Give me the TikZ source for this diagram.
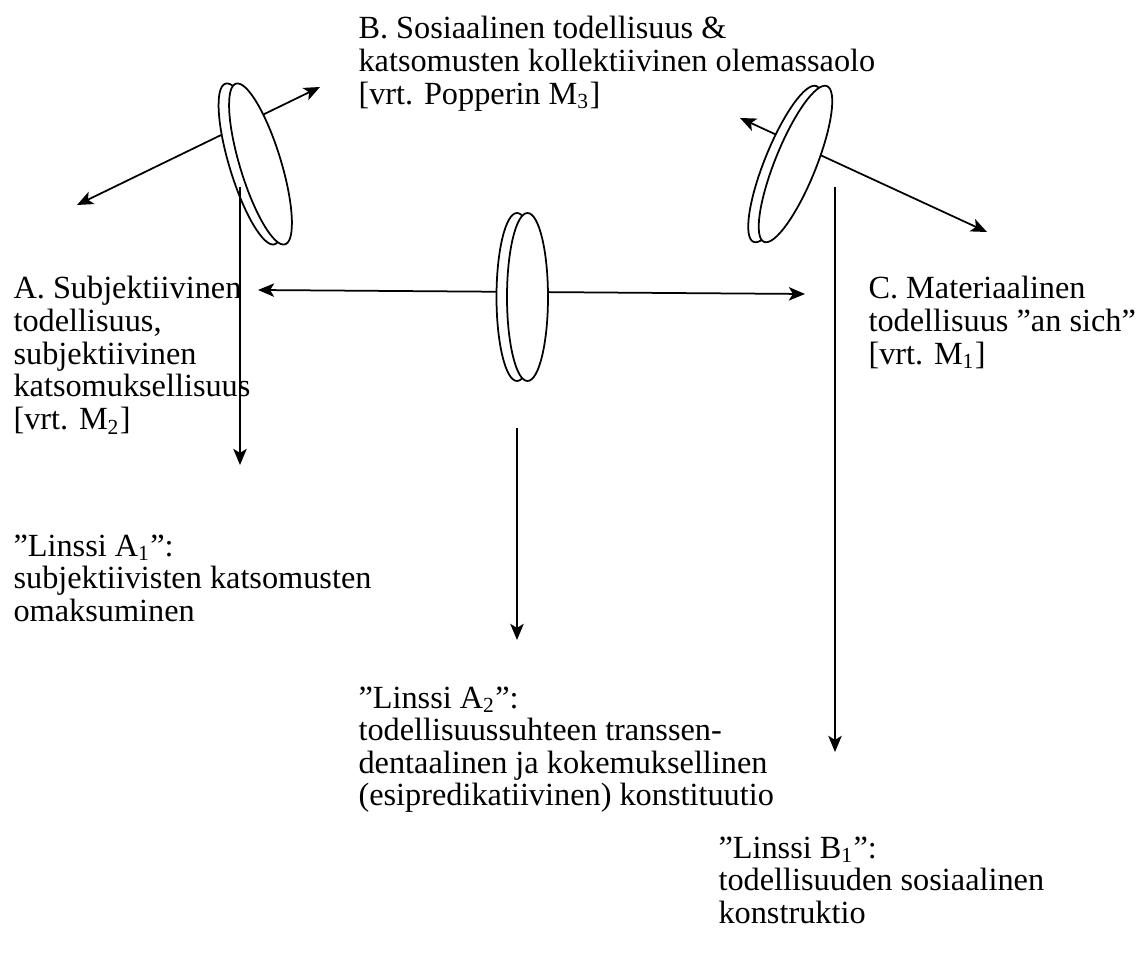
\documentclass[tikz,border=0pt]{standalone}
\usepackage{fontspec}
\setmainfont{Liberation Serif}
\usetikzlibrary{arrows.meta}

\begin{document}
\begin{tikzpicture}[x = 0.3715pt, y = -0.3715pt,
		lbl/.style = {align = left, inner sep = 0pt, anchor = north west, font = \fontsize{12}{12.1}\selectfont},
		lens/.style = {draw, fill = white, line width = 0.65pt},
		tip/.style = {line width = 0.65pt, -{Stealth[length = 6pt, width = 5pt, inset = 1.5pt]}},
		twotip/.style = {line width = 0.65pt, {Stealth[length = 6pt, width = 5pt, inset = 1.5pt]}-{Stealth[length = 6pt, width = 5pt, inset = 1.5pt]}}]
	\useasboundingbox (0,0) rectangle (1147,960);

	\def\lensRX{20.5};
	\def\lensRY{84};
	\def\lensGap{10.5};

	\coordinate (linssiA1) at (250,163);
	\coordinate (linssiA2) at (517,297);
	\coordinate (linssiB1) at (785,164);

	\node [lbl] (sosB) at (358,16) {B. Sosiaalinen todellisuus \&\\katsomusten kollektiivinen olemassaolo\\{}[vrt. Popperin M\textsubscript{3}]};
	\node [lbl] (subjA) at (13,276) {A. Subjektiivinen\\todellisuus,\\subjektiivinen\\katsomuksellisuus\\{}[vrt. M\textsubscript{2}]};
	\node [lbl] (matC) at (868,276) {C. Materiaalinen\\todellisuus ”an sich”\\{}[vrt. M\textsubscript{1}]};
	\node [lbl] (txtA1) at (13,534) {”Linssi A\textsubscript{1}”:\\subjektiivisten katsomusten\\omaksuminen};
	\node [lbl] (txtA2) at (358,686) {”Linssi A\textsubscript{2}”:\\todellisuussuhteen transsen-\\dentaalinen ja kokemuksellinen\\(esipredikatiivinen) konstituutio};
	\node [lbl] (txtB1) at (718,836) {”Linssi B\textsubscript{1}”:\\todellisuuden sosiaalinen\\konstruktio};

	\coordinate (toA) at (258,290);
	\coordinate (toC) at (805,294);
	\coordinate (a1Out) at (77,205);
	\coordinate (a1In) at (320,87);
	\coordinate (b1Out) at (740,118);
	\coordinate (b1In) at (987,232);

	\draw [twotip] (toA) -- (toC);
	\draw [twotip] (a1Out) -- (a1In);
	\draw [twotip] (b1Out) -- (b1In);

	\begin{scope}[shift = {(linssiA1)}]
		\foreach \dx in {0,\lensGap}
			\draw [lens, shift = {(\dx,1)}, rotate = 17] (0,0) ellipse ({\lensRX} and {\lensRY});
	\end{scope}
	\begin{scope}[shift = {(linssiA2)}]
		\foreach \dx in {0,\lensGap}
			\draw [lens, shift = {(\dx,0)}] (0,0) ellipse ({\lensRX} and {\lensRY});
	\end{scope}
	\begin{scope}[shift = {(linssiB1)}]
		\foreach \dx in {0,\lensGap}
			\draw [lens, shift = {(\dx,0)}, rotate = -22] (0,0) ellipse ({\lensRX} and {\lensRY});
	\end{scope}

	\coordinate (a1From) at (240,187);
	\coordinate (a1To) at (240,465);
	\coordinate (a2From) at (517,428);
	\coordinate (a2To) at (517,640);
	\coordinate (b1From) at (835,187);
	\coordinate (b1To) at (835,752);

	\draw [tip] (a1From) -- (a1To);
	\draw [tip] (a2From) -- (a2To);
	\draw [tip] (b1From) -- (b1To);
\end{tikzpicture}
\end{document}
